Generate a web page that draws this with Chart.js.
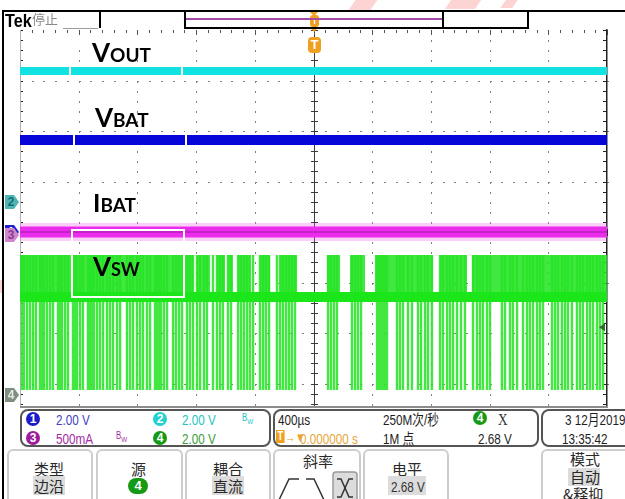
<!DOCTYPE html>
<html lang="zh-CN">
<head>
<meta charset="utf-8">
<title>Tek 停止 — VOUT / VBAT / IBAT / VSW</title>
<script src="https://cdn.jsdelivr.net/npm/chart.js@4.4.1/dist/chart.umd.min.js"></script>
<style>
  html, body { margin:0; padding:0; background:#fff; }
  #scope { position:relative; width:625px; height:499px; overflow:hidden; background:#fff; }
  #plot { position:absolute; left:0; top:0; }
  .ln { position:absolute; background:#000; }
  .t { position:absolute; white-space:nowrap; line-height:1; font-family:'Liberation Sans','Noto Sans CJK SC',sans-serif; font-size:15px; color:#1e1e1e; transform:scaleX(0.78); transform-origin:0 0; }
  .cjk { position:absolute; white-space:nowrap; line-height:1; font-family:'Noto Sans CJK SC',sans-serif; font-size:15px; color:#2a2a2a; }
  .lbl { position:absolute; font-family:Lato,'Open Sans',sans-serif; font-weight:700; color:#000; white-space:nowrap; line-height:28px; font-size:26px; }
  .lbl .sm { font-size:19px; }
  .wbox { position:absolute; border:2px solid #fff; box-sizing:border-box; }
  .box { position:absolute; border:2px solid #555; border-radius:8px; box-sizing:border-box; background:#fff; }
  .btn { position:absolute; border:2px solid #cdcdcd; border-radius:6px; box-sizing:border-box; background:#fff; }
  .hl { position:absolute; background:#dcdcdc; }
  .dot { position:absolute; border-radius:50%; color:#fff; font:bold 12px 'Liberation Sans',sans-serif; text-align:center; line-height:14px; width:14px; height:14px; }
  .wm { position:absolute; background:rgba(240,60,60,0.22); transform:skewX(-35deg); }
</style>
</head>
<body>
<div id="scope">
  <canvas id="plot" width="625" height="499"></canvas>

  <!-- waveform labels -->
  <div class="lbl" style="left:92px;top:38px;">V<span class="sm">OUT</span></div>
  <div class="lbl" style="left:95px;top:103px;">V<span class="sm">BAT</span></div>
  <div class="lbl" style="left:93px;top:188px;font-size:25px;">I<span class="sm" style="font-size:19px">BAT</span></div>
  <div class="lbl" style="left:93px;top:252px;">V<span class="sm" style="font-size:18px">SW</span></div>
  <div class="wbox" style="left:69px;top:40px;width:114px;height:40px;"></div>
  <div class="wbox" style="left:73px;top:104px;width:114px;height:44px;"></div>
  <div class="wbox" style="left:71px;top:229px;width:114px;height:69px;"></div>

  <!-- header: status and record view -->
  <div class="wm" style="left:352px;top:0;width:22px;height:10px;"></div>
  <div class="wm" style="left:448px;top:0;width:30px;height:9px;"></div>
  <div class="wm" style="left:503px;top:0;width:12px;height:8px;"></div>
  <div class="ln" style="left:2px;top:10px;width:623px;height:2px;"></div>
  <div class="t" style="left:5px;top:12px;font-size:18px;font-weight:bold;color:#000;transform:scaleX(0.9);">Tek</div>
  <div class="cjk" style="left:32px;top:12px;font-size:13px;color:#8a8a8a;">停止</div>
  <div class="ln" style="left:63px;top:28px;width:35px;height:1px;background:#a0a0a0;"></div>
  <div class="ln" style="left:99px;top:12px;width:2px;height:16px;"></div>
  <div class="ln" style="left:184px;top:12px;width:2px;height:17px;"></div>
  <div class="ln" style="left:184px;top:27px;width:344px;height:2px;"></div>
  <div class="ln" style="left:186px;top:18px;width:256px;height:2px;background:#a64aa6;"></div>
  <div class="ln" style="left:442px;top:12px;width:2px;height:17px;"></div>
  <div class="ln" style="left:527px;top:12px;width:2px;height:17px;"></div>

  <!-- readout area -->
  <div style="position:absolute;left:0;top:408px;width:625px;height:91px;background:#fff;"></div>
  <div class="ln" style="left:20px;top:406px;width:587px;height:2px;background:#8c8c8c;"></div>

  <div class="box" style="left:20px;top:409px;width:251px;height:38px;"></div>
  <div class="dot" style="left:26px;top:412px;background:#1c1ccc;">1</div>
  <div class="t" style="left:56px;top:412px;color:#4242c4;">2.00 V</div>
  <div class="dot" style="left:153px;top:412px;background:#22d0d0;">2</div>
  <div class="t" style="left:182px;top:412px;color:#25c2c2;">2.00 V</div>
  <div class="t" style="left:242px;top:413px;font-size:10px;color:#25c2c2;">B<sub style="font-size:8px">W</sub></div>
  <div class="dot" style="left:26px;top:431px;background:#9c1c9c;">3</div>
  <div class="t" style="left:56px;top:431px;color:#a22aa2;">500mA</div>
  <div class="t" style="left:116px;top:431px;font-size:10px;color:#a22aa2;">B<sub style="font-size:8px">W</sub></div>
  <div class="dot" style="left:153px;top:431px;background:#169a16;">4</div>
  <div class="t" style="left:182px;top:431px;color:#3a9e3a;">2.00 V</div>

  <div class="box" style="left:273px;top:409px;width:266px;height:38px;"></div>
  <div class="t" style="left:278px;top:412px;">400µs</div>
  <div class="t" style="left:276px;top:430px;width:11px;height:13px;background:#f0a020;color:#fff;font-size:12px;font-weight:bold;text-align:center;line-height:13px;">T</div>
  <div class="t" style="left:285px;top:431px;font-size:13px;color:#f0a020;">→▼</div>
  <div class="t" style="left:300px;top:431px;color:#e9a63a;">0.000000 s</div>
  <div class="t" style="left:383px;top:412px;">250M次/秒</div>
  <div class="t" style="left:383px;top:431px;">1M 点</div>
  <div class="dot" style="left:473px;top:411px;background:#169a16;">4</div>
  <div class="t" style="left:498px;top:411px;font-family:'Liberation Serif',serif;font-size:17px;color:#333;">X</div>
  <div class="t" style="left:478px;top:431px;">2.68 V</div>

  <div class="box" style="left:541px;top:409px;width:100px;height:38px;"></div>
  <div class="t" style="left:565px;top:412px;">3 12月2019</div>
  <div class="t" style="left:562px;top:431px;">13:35:42</div>

  <!-- bottom menu -->
  <div class="btn" style="left:7px;top:449px;width:86px;height:60px;"></div>
  <div class="cjk" style="left:34px;top:461px;">类型</div>
  <div class="hl" style="left:33px;top:476px;width:32px;height:19px;"></div>
  <div class="cjk" style="left:34px;top:478px;">边沿</div>

  <div class="btn" style="left:96px;top:449px;width:87px;height:60px;"></div>
  <div class="cjk" style="left:131px;top:461px;">源</div>
  <div class="dot" style="left:128px;top:478px;width:20px;height:16px;line-height:16px;border-radius:8px;background:#169a16;font-size:13px;">4</div>

  <div class="btn" style="left:185px;top:449px;width:86px;height:60px;"></div>
  <div class="cjk" style="left:213px;top:461px;">耦合</div>
  <div class="hl" style="left:212px;top:476px;width:32px;height:19px;"></div>
  <div class="cjk" style="left:213px;top:478px;">直流</div>

  <div class="btn" style="left:273px;top:449px;width:88px;height:60px;"></div>
  <div class="cjk" style="left:303px;top:453px;">斜率</div>
  <svg style="position:absolute;left:274px;top:470px;" width="86" height="30">
    <polyline points="5,30 15,9 25,9" fill="none" stroke="#333" stroke-width="1.5"/>
    <polyline points="32,9 40,9 50,30" fill="none" stroke="#333" stroke-width="1.5"/>
    <rect x="59" y="2" width="24" height="30" rx="3" fill="#dcdcdc" stroke="#9a9a9a" stroke-width="1.5"/>
    <polyline points="63,9 67,9 75,27 79,27" fill="none" stroke="#333" stroke-width="1.5"/>
    <polyline points="63,27 67,27 75,9 79,9" fill="none" stroke="#333" stroke-width="1.5"/>
  </svg>

  <div class="btn" style="left:363px;top:449px;width:86px;height:60px;"></div>
  <div class="cjk" style="left:392px;top:461px;">电平</div>
  <div class="hl" style="left:388px;top:476px;width:38px;height:19px;"></div>
  <div class="t" style="left:391px;top:479px;color:#333;">2.68 V</div>

  <div class="btn" style="left:541px;top:449px;width:95px;height:60px;"></div>
  <div class="cjk" style="left:570px;top:451px;">模式</div>
  <div class="hl" style="left:568px;top:468px;width:32px;height:18px;"></div>
  <div class="cjk" style="left:570px;top:469px;">自动</div>
  <div class="cjk" style="left:563px;top:486px;">&amp;释抑</div>

  <div class="wm" style="left:0;top:280px;width:3px;height:13px;transform:none;"></div>
  <div class="ln" style="left:2px;top:10px;width:2px;height:489px;"></div>
</div>

<script>
// ---- timebase and channel setup ----
const usPerDiv = 400;            // 400 µs/div
const hDivs = 10;
const vDivs = 8;
const triggerTime = 0;           // µs
const triggerLevel = 2.68;       // V, CH4 edge trigger

const chNames  = ['VBAT', 'VOUT', 'IBAT', 'VSW'];   // CH1..CH4
const chScale  = [2.0, 2.0, 0.5, 2.0];               // V/div, A/div
const chGround = [0.0, 0.594, -0.059, -3.228];        // ground markers, div from centre

// ---- measured levels ----
const voutLevel = 5.19;   // V
const vbatLevel = 3.64;   // V
const ibatLevel = 0.03;   // A
const vswHigh = 5.55;     // V, switch node high
const vswRest = 3.88;     // V, idle level
const vswLow  = 0.20;     // V, switch on

// switching edges of VSW (µs)
const vswPulseTimes = [
  -1986,-1973,-1952,-1932,-1911,-1891,-1864,-1850,-1836,-1816,-1795,-1775,
  -1741,-1727,-1714,-1693,-1673,-1639,-1625,-1612,-1591,-1571,-1537,-1523,
  -1509,-1496,-1475,-1455,-1434,-1407,-1387,-1366,-1339,-1318,-1271,-1250,
  -1230,-1203,-1182,-1162,-1135,-1114,-1080,-1066,-1053,-1039,-1019,-998,
  -957,-937,-916,-896,-862,-842,-821,-794,-773,-746,-726,-685,-658,-637,
  -617,-583,-562,-514,-494,-474,-453,-433,-412,-365,-344,-324,-303,-249,
  -228,-208,-187,-167,-147,-126,
  99,119,140,160,262,283,303,324,433,446,460,474,487,501,569,589,610,644,
  671,712,733,760,780,807,862,882,910,930,951,978,1005,1032,1087,1114,1135,
  1155,1182,1203,1284,1305,1339,1359,1387,1428,1455,1475,1496,1523,1543,1564,
  1625,1646,1666,1693,1714,1734,1761,1795,1816,1836,1864,1884,1905,1932,1952,1973
];
// bursts where the switch node rings between rest and high level (µs)
const vswBusySpans = [
  [-2000,-889],[-876,-821],[-794,-705],[-658,-603],[-583,-549],[-514,-433],
  [-365,-296],[-228,-112],[92,181],[249,351],[419,814],[862,1046],[1080,2000]
];

// ---- build series in screen divisions ----
const tMin = -hDivs / 2 * usPerDiv, tMax = hDivs / 2 * usPerDiv;
const toDiv = (ch, v) => chGround[ch] + v / chScale[ch];
const flat = (ch, v) => [{x: tMin, y: toDiv(ch, v)}, {x: tMax, y: toDiv(ch, v)}];

const yHigh = toDiv(3, vswHigh), yRest = toDiv(3, vswRest), yLow = toDiv(3, vswLow);
const vswEdges = [{x: tMin, y: yRest}];
vswPulseTimes.forEach(t => {
  vswEdges.push({x: t, y: yRest}, {x: t, y: yHigh}, {x: t, y: yLow}, {x: t, y: yRest});
});
vswEdges.push({x: tMax, y: yRest});

const vswBusy = [{x: tMin, y: yRest}];
vswBusySpans.forEach(([a, b]) => {
  vswBusy.push({x: a, y: yRest}, {x: a, y: yHigh}, {x: b, y: yHigh}, {x: b, y: yRest});
});
vswBusy.push({x: tMax, y: yRest});

// ---- graticule, markers ----
function pentagon(ctx, yc, fill, text, color) {
  ctx.beginPath();
  ctx.moveTo(5, yc - 7); ctx.lineTo(14, yc - 7); ctx.lineTo(19, yc);
  ctx.lineTo(14, yc + 7); ctx.lineTo(5, yc + 7); ctx.closePath();
  ctx.fillStyle = fill; ctx.fill();
  ctx.fillStyle = color;
  ctx.font = 'bold 12px "Liberation Sans", sans-serif';
  ctx.textAlign = 'center'; ctx.textBaseline = 'middle';
  ctx.fillText(text, 11, yc + 1);
}

function roundRect(ctx, x, y, w, h, r) {
  ctx.beginPath();
  ctx.moveTo(x + r, y); ctx.lineTo(x + w - r, y); ctx.quadraticCurveTo(x + w, y, x + w, y + r);
  ctx.lineTo(x + w, y + h - r); ctx.quadraticCurveTo(x + w, y + h, x + w - r, y + h);
  ctx.lineTo(x + r, y + h); ctx.quadraticCurveTo(x, y + h, x, y + h - r);
  ctx.lineTo(x, y + r); ctx.quadraticCurveTo(x, y, x + r, y); ctx.closePath();
}

const scopeScreen = {
  id: 'scopeScreen',
  beforeDatasetsDraw(chart) {
    const {ctx, chartArea: a, scales: {x, y}} = chart;
    const px = v => Math.round(x.getPixelForValue(v));
    const py = v => Math.round(y.getPixelForValue(v));
    const yMin = -vDivs / 2;
    ctx.save();
    // dotted division lines
    ctx.fillStyle = '#7e7e7e';
    for (let k = 1; k < hDivs; k++) {
      if (k === hDivs / 2) continue;
      const X = px(tMin + k * usPerDiv);
      for (let m = 0; m <= vDivs * 5; m++) ctx.fillRect(X, py(yMin + m * 0.2), 1, 2);
    }
    for (let j = 1; j < vDivs; j++) {
      if (j === vDivs / 2) continue;
      const Y = py(yMin + j);
      for (let m = 0; m <= hDivs * 5; m++) ctx.fillRect(px(tMin + m * usPerDiv / 5), Y, 2, 1);
    }
    // centre cross with minor ticks
    ctx.fillStyle = '#3c3c3c';
    const cx = px(0), cy = py(0);
    ctx.fillRect(cx, a.top, 1, a.bottom - a.top);
    for (let m = 0; m <= vDivs * 5; m++) ctx.fillRect(cx - 3, py(yMin + m * 0.2), 7, 1);
    for (let m = 0; m <= hDivs * 5; m++) ctx.fillRect(px(tMin + m * usPerDiv / 5), cy - 3, 1, 7);
    // frame ticks
    ctx.fillStyle = '#555';
    for (let m = 0; m <= hDivs * 5; m++) {
      const X = px(tMin + m * usPerDiv / 5);
      ctx.fillRect(X, a.top, 1, m % 5 === 0 ? 5 : 3);
    }
    ctx.fillStyle = '#222';
    ctx.fillRect(a.right - 1, a.top - 1, 1.5, a.bottom - a.top);
    for (let m = 0; m <= vDivs * 5; m++) {
      const Y = py(yMin + m * 0.2);
      ctx.fillRect(a.right - 4, Y, 4, 1);
      ctx.fillRect(a.left, Y, 3, 1);
    }
    ctx.fillStyle = '#b4b4b4';
    ctx.fillRect(a.left, a.top, 1, a.bottom - a.top);
    ctx.restore();
  },
  afterDatasetsDraw(chart) {
    const {ctx, chartArea: a, scales: {x, y}} = chart;
    const cx = Math.round(x.getPixelForValue(triggerTime));
    ctx.save();
    // channel ground markers
    pentagon(ctx, y.getPixelForValue(chGround[0]), '#2020d0', '1', '#fff');
    pentagon(ctx, y.getPixelForValue(chGround[1]), '#4fb4b4', '2', '#1b6c6c');
    pentagon(ctx, y.getPixelForValue(chGround[2]), '#cf86cf', '3', '#843a84');
    pentagon(ctx, y.getPixelForValue(chGround[3]), '#7f8f7f', '4', '#e8e8e8');
    // trigger level marker (CH4)
    const ty = y.getPixelForValue(toDiv(3, triggerLevel));
    ctx.beginPath();
    ctx.moveTo(a.right - 8, ty); ctx.lineTo(a.right - 2, ty - 4); ctx.lineTo(a.right - 2, ty + 4); ctx.closePath();
    ctx.fillStyle = '#356a35'; ctx.fill();
    // trigger position markers
    ctx.fillStyle = '#f0a020';
    ctx.beginPath(); ctx.moveTo(cx - 4, 12); ctx.lineTo(cx + 4, 12); ctx.lineTo(cx, 16); ctx.closePath(); ctx.fill();
    roundRect(ctx, cx - 4, 15, 9, 12, 3); ctx.fill();
    ctx.beginPath(); ctx.moveTo(cx - 4, 27); ctx.lineTo(cx + 5, 27); ctx.lineTo(cx, 32); ctx.closePath(); ctx.fill();
    roundRect(ctx, cx - 6, a.top + 7, 13, 16, 4); ctx.fill();
    ctx.fillStyle = '#fff';
    ctx.font = 'bold 9px "Liberation Sans", sans-serif';
    ctx.textAlign = 'center'; ctx.textBaseline = 'middle';
    ctx.fillText('T', cx + 0.5, 21.5);
    ctx.font = 'bold 13px "Liberation Sans", sans-serif';
    ctx.fillText('T', cx + 0.5, a.top + 15.5);
    ctx.restore();
  }
};

const lineDefaults = {pointRadius: 0, tension: 0, fill: false, borderCapStyle: 'butt'};

new Chart(document.getElementById('plot'), {
  type: 'line',
  data: {
    datasets: [
      {...lineDefaults, label: chNames[3] + ' rest', data: flat(3, vswRest), borderColor: '#1ae61a', borderWidth: 10},
      {...lineDefaults, label: chNames[3], data: vswEdges, borderColor: 'rgba(40,228,40,0.88)', borderWidth: 2.4},
      {...lineDefaults, label: chNames[3] + ' ringing', data: vswBusy, borderWidth: 0,
        backgroundColor: 'rgba(30,228,30,0.85)', fill: {value: yRest}},
      {...lineDefaults, label: chNames[2] + ' core', data: flat(2, ibatLevel), borderColor: '#bc1cbc', borderWidth: 1.5},
      {...lineDefaults, label: chNames[2], data: flat(2, ibatLevel), borderColor: '#ec2cec', borderWidth: 11},
      {...lineDefaults, label: chNames[2] + ' noise', data: flat(2, ibatLevel), borderColor: 'rgba(240,96,240,0.3)', borderWidth: 18},
      {...lineDefaults, label: chNames[0], data: flat(0, vbatLevel), borderColor: '#0606d8', borderWidth: 10},
      {...lineDefaults, label: chNames[1], data: flat(1, voutLevel), borderColor: '#12e2e2', borderWidth: 8}
    ]
  },
  options: {
    responsive: false,
    devicePixelRatio: 1,
    animation: false,
    events: [],
    layout: {padding: {left: 20, right: 18, top: 30, bottom: 65}},
    scales: {
      x: {type: 'linear', min: tMin, max: tMax, display: false},
      y: {type: 'linear', min: -vDivs / 2, max: vDivs / 2, display: false}
    },
    plugins: {legend: {display: false}, tooltip: {enabled: false}}
  },
  plugins: [scopeScreen]
});
</script>
</body>
</html>
